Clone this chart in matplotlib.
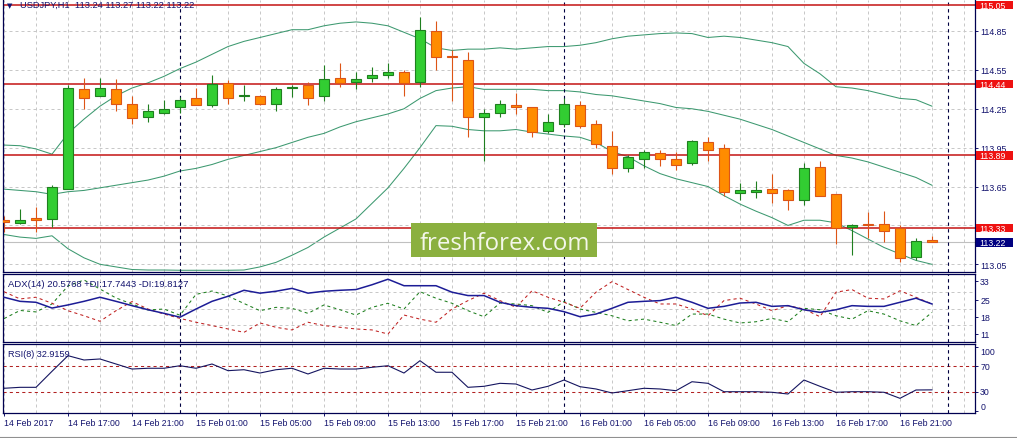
import matplotlib
matplotlib.use("Agg")
import matplotlib.pyplot as plt
from matplotlib.patches import Rectangle
from matplotlib.transforms import blended_transform_factory

plt.rcParams["font.family"] = ["Liberation Sans", "DejaVu Sans"]

# USDJPY H1 bars, 14 Feb 2017 13:00 .. 16 Feb 23:00
opens = [113.39, 113.37, 113.41, 113.40, 113.63, 114.40, 114.35, 114.40, 114.29, 114.19,
         114.22, 114.26, 114.33, 114.28, 114.45, 114.35, 114.35, 114.29, 114.41, 114.43,
         114.35, 114.49, 114.46, 114.49, 114.51, 114.53, 114.46, 114.85, 114.66, 114.63,
         114.19, 114.22, 114.28, 114.26, 114.08, 114.13, 114.28, 114.13, 113.96, 113.79,
         113.86, 113.91, 113.86, 113.83, 113.99, 113.95, 113.60, 113.61, 113.63, 113.62,
         113.55, 113.80, 113.59, 113.34, 113.36, 113.36, 113.33, 113.11, 113.24]
highs = [113.42, 113.48, 113.49, 113.66, 114.43, 114.49, 114.49, 114.48, 114.35, 114.29,
         114.32, 114.34, 114.41, 114.51, 114.47, 114.43, 114.36, 114.42, 114.43, 114.46,
         114.59, 114.60, 114.53, 114.57, 114.60, 114.55, 114.96, 114.93, 114.70, 114.69,
         114.25, 114.32, 114.37, 114.26, 114.21, 114.33, 114.31, 114.16, 114.08, 113.89,
         113.93, 113.93, 113.92, 114.01, 114.03, 113.98, 113.68, 113.69, 113.75, 113.63,
         113.83, 113.85, 113.59, 113.36, 113.45, 113.46, 113.35, 113.25, 113.27]
lows = [113.30, 113.36, 113.30, 113.34, 113.63, 114.25, 114.35, 114.23, 114.13, 114.15,
        114.21, 114.22, 114.28, 114.26, 114.29, 114.31, 114.28, 114.23, 114.34, 114.28,
        114.31, 114.42, 114.40, 114.46, 114.49, 114.35, 114.42, 114.55, 114.31, 114.03,
        113.85, 114.19, 114.21, 114.03, 114.06, 114.11, 114.10, 113.95, 113.75, 113.76,
        113.79, 113.81, 113.78, 113.82, 113.85, 113.58, 113.55, 113.56, 113.52, 113.47,
        113.51, 113.58, 113.21, 113.12, 113.25, 113.22, 113.07, 113.08, 113.22]
closes = [113.38, 113.39, 113.39, 113.65, 114.41, 114.33, 114.41, 114.29, 114.18, 114.23,
          114.25, 114.32, 114.28, 114.44, 114.33, 114.36, 114.29, 114.40, 114.42, 114.33,
          114.48, 114.45, 114.48, 114.51, 114.53, 114.45, 114.86, 114.65, 114.65, 114.19,
          114.22, 114.29, 114.26, 114.07, 114.15, 114.29, 114.12, 113.98, 113.79, 113.88,
          113.92, 113.86, 113.82, 114.00, 113.93, 113.61, 113.62, 113.62, 113.60, 113.55,
          113.79, 113.58, 113.33, 113.35, 113.35, 113.31, 113.10, 113.23, 113.22]

# Bollinger bands
bb_upper = [113.97, 113.965, 113.94, 113.90, 114.06, 114.17, 114.27, 114.35, 114.41, 114.45,
            114.50, 114.56, 114.61, 114.67, 114.73, 114.77, 114.80, 114.83, 114.86, 114.86,
            114.89, 114.91, 114.92, 114.91, 114.89, 114.84, 114.79, 114.72, 114.70, 114.71,
            114.71, 114.72, 114.71, 114.72, 114.73, 114.73, 114.74, 114.76, 114.79, 114.81,
            114.82, 114.83, 114.835, 114.83, 114.80, 114.81, 114.80, 114.78, 114.76, 114.73,
            114.60, 114.52, 114.42, 114.41, 114.39, 114.36, 114.33, 114.32, 114.27]
bb_middle = [113.63, 113.62, 113.61, 113.59, 113.61, 113.62, 113.64, 113.66, 113.68, 113.70,
             113.73, 113.77, 113.79, 113.82, 113.86, 113.89, 113.92, 113.95, 113.99, 114.03,
             114.06, 114.11, 114.15, 114.18, 114.21, 114.25, 114.33, 114.39, 114.41, 114.42,
             114.40, 114.40, 114.40, 114.40, 114.39, 114.39, 114.38, 114.36, 114.35, 114.33,
             114.31, 114.29, 114.26, 114.25, 114.23, 114.20, 114.17, 114.13, 114.09, 114.04,
             113.99, 113.94, 113.89, 113.87, 113.84, 113.80, 113.76, 113.72, 113.66]
bb_lower = [113.28, 113.26, 113.25, 113.27, 113.17, 113.10, 113.05, 113.03, 113.01, 113.006,
            113.006, 113.004, 113.004, 113.004, 113.004, 113.006, 113.03, 113.065, 113.12, 113.18,
            113.26, 113.33, 113.40, 113.52, 113.64, 113.79, 113.95, 114.12, 114.115, 114.09,
            114.08, 114.08, 114.09, 114.07, 114.055, 114.04, 114.03, 113.99, 113.92, 113.88,
            113.81, 113.75, 113.71, 113.68, 113.65, 113.58, 113.515, 113.46, 113.41, 113.35,
            113.39, 113.39, 113.37, 113.31, 113.245, 113.18, 113.13, 113.08, 113.05]

# ADX(14)
adx = [26.1, 24.4, 24.0, 21.6, 22.9, 24.4, 26.1, 24.4, 22.6, 20.9,
       19.4, 17.8, 21.2, 24.4, 26.5, 29.0, 27.8, 28.6, 29.8, 27.8,
       28.6, 29.0, 29.3, 31.3, 33.6, 30.9, 30.9, 30.9, 28.2, 26.8,
       26.8, 24.0, 22.6, 21.9, 21.5, 20.1, 18.0, 19.1, 21.5, 24.0,
       24.4, 24.7, 26.1, 24.0, 21.5, 22.3, 23.7, 24.0, 22.3, 22.6,
       20.9, 19.8, 20.9, 22.6, 22.3, 22.3, 24.0, 25.7, 23.3]
plus_di = [17.2, 20.6, 20.0, 23.3, 30.8, 33.3, 29.5, 25.8, 23.3, 20.8,
           21.2, 18.6, 27.3, 28.7, 26.6, 23.5, 20.5, 21.9, 21.5, 19.4,
           22.9, 20.9, 18.7, 21.9, 23.6, 21.2, 28.4, 25.7, 23.6, 20.5,
           18.0, 23.7, 23.3, 22.6, 19.8, 24.3, 21.2, 19.8, 18.4, 16.3,
           17.0, 15.7, 14.3, 19.1, 19.1, 17.0, 15.4, 15.9, 17.3, 15.9,
           21.5, 20.9, 18.4, 17.0, 20.5, 19.1, 16.3, 14.3, 19.8]
minus_di = [28.4, 25.4, 26.1, 23.6, 20.5, 18.4, 16.1, 20.5, 24.3, 21.2,
            19.1, 17.3, 15.7, 14.3, 12.9, 11.5, 15.4, 13.6, 12.5, 15.7,
            14.3, 13.6, 12.9, 12.5, 10.8, 18.7, 17.0, 15.7, 21.2, 24.7,
            27.8, 24.7, 21.9, 28.8, 26.1, 24.0, 21.5, 28.2, 32.6, 29.3,
            26.1, 23.3, 23.3, 21.2, 18.4, 24.7, 25.7, 23.3, 20.5, 22.6,
            21.2, 18.0, 28.2, 29.3, 25.7, 25.4, 28.8, 26.1, 23.3]

# RSI(8)
rsi = [35.4, 36.9, 36.9, 62.1, 86.7, 79.9, 81.5, 73.6, 65.7, 66.9,
       66.9, 70.9, 66.9, 73.6, 63.1, 64.6, 59.4, 64.6, 66.9, 57.9,
       66.9, 65.7, 65.7, 68.4, 70.9, 59.4, 78.8, 60.6, 60.6, 36.9,
       38.5, 43.2, 42.1, 32.7, 38.5, 48.4, 37.9, 34.3, 28.0, 31.6,
       35.4, 34.3, 31.6, 45.7, 43.2, 30.0, 30.0, 30.0, 29.1, 26.4,
       48.4, 38.5, 29.1, 30.0, 30.0, 29.1, 19.6, 32.7, 32.9]

levels = [115.05, 114.44, 113.89, 113.33]
bid = 113.22
price_ticks = [113.05, 113.35, 113.65, 113.95, 114.25, 114.55, 114.85]
adx_ticks = [33, 25, 18, 11]
adx_grid = [28.3, 21.4, 14.5]
rsi_ticks = [100, 70, 30, 0]
rsi_levels = [70, 30]
day_breaks = [11, 35, 59]
time_label_bars = list(range(0, 59, 4))
time_labels = ["14 Feb 2017", "14 Feb 17:00", "14 Feb 21:00", "15 Feb 01:00",
               "15 Feb 05:00", "15 Feb 09:00", "15 Feb 13:00", "15 Feb 17:00",
               "15 Feb 21:00", "16 Feb 01:00", "16 Feb 05:00", "16 Feb 09:00",
               "16 Feb 13:00", "16 Feb 17:00", "16 Feb 21:00"]
header = "USDJPY,H1  113.24 113.27 113.22 113.22"
adx_title = "ADX(14) 20.5768 +DI:17.7443 -DI:19.8127"
rsi_title = "RSI(8) 32.9159"

# colours
NAVY = "#14146E"
GRID = "#C8C8C8"
BAND = "#3D9970"
LEVEL = "#C41414"
UP_FILL, UP_EDGE = "#32CD32", "#1F7F1F"
DN_FILL, DN_EDGE = "#FF8C00", "#DD5516"
FS = 6.3

W, H = 1017, 439
fig = plt.figure(figsize=(W / 100, H / 100), dpi=100)
fig.patch.set_facecolor("white")


def panel(y0, y1):
    x0, x1 = 3.3, 975
    return fig.add_axes([x0 / W, 1 - y1 / H, (x1 - x0) / W, (y1 - y0) / H])


ax = panel(0.5, 272.7)
ax_adx = panel(274.7, 342.7)
ax_rsi = panel(345.3, 414)

n = len(closes)
xs = list(range(n))

for a in (ax, ax_adx, ax_rsi):
    a.set_xlim(-0.044, 60.69)
    a.yaxis.tick_right()
    a.tick_params(axis="y", direction="out", length=2.2, width=0.7, color=NAVY,
                  labelsize=FS, labelcolor=NAVY, pad=1.5)
    for s in a.spines.values():
        s.set_color("#000050")
        s.set_linewidth(0.9)
    for gx in range(0, 61, 2):
        a.axvline(gx, color=GRID, lw=0.72, ls=(0, (3, 3)), zorder=0.5)
    for d in day_breaks:
        a.axvline(d, color="#000040", lw=0.8, ls=(0, (3, 3)), zorder=1.5)
ax.spines["top"].set_visible(False)

# ---- main price panel
ax.set_ylim(112.993, 115.093)
ax.set_yticks(price_ticks, [f"{p:.2f}" for p in price_ticks])
ax.set_xticks([])
for p in price_ticks:
    ax.axhline(p, color=GRID, lw=0.72, ls=(0, (3, 3)), zorder=0.5)

ax.plot(xs, bb_upper, color=BAND, lw=0.75, zorder=1)
ax.plot(xs, bb_middle, color=BAND, lw=0.75, zorder=1)
ax.plot(xs, bb_lower, color=BAND, lw=0.75, zorder=1)

ax.axhline(bid, color="#C0C0C0", lw=0.8, zorder=1.2)
for lv in levels:
    ax.axhline(lv, color=LEVEL, lw=1.1, zorder=1.8)

for i in xs:
    o, h, l, c = opens[i], highs[i], lows[i], closes[i]
    up = c >= o
    edge = UP_EDGE if up else DN_EDGE
    ax.vlines(i, l, h, color=edge, lw=0.8, zorder=2)
    ax.bar(i, max(abs(c - o), 0.004), bottom=min(o, c), width=0.6,
           color=UP_FILL if up else DN_FILL, edgecolor=edge, linewidth=0.8, zorder=3)

# price boxes on the right scale
tr = blended_transform_factory(ax.transAxes, ax.transData)
box_h = 8.6 / 129.6


def price_box(value, fill):
    ax.add_patch(Rectangle((1.001, value - box_h / 2), 0.0378, box_h, transform=tr,
                           facecolor=fill, edgecolor="none", clip_on=False, zorder=5))
    ax.text(1.0042, value, f"{value:.2f}", transform=tr, color="white", fontsize=FS,
            va="center", ha="left", zorder=6, clip_on=False)


for lv in levels:
    price_box(lv, "#EE1111")
price_box(bid, "#000080")

ax.text(0.0042, 0.981, "\u25bc", transform=ax.transAxes, fontsize=5, color=NAVY,
        va="center", ha="left", family=["DejaVu Sans"], zorder=6)
ax.text(0.0172, 0.981, header, transform=ax.transAxes, fontsize=6.7, color=NAVY,
        va="center", ha="left", zorder=6)

# watermark
ax.add_patch(Rectangle((0.4196, 0.055), 0.1914, 0.1225, transform=ax.transAxes,
                       facecolor="#8BB03F", edgecolor="none", zorder=7))
ax.text(0.5158, 0.083, "freshforex.com", transform=ax.transAxes, fontsize=17.3,
        family=["Open Sans", "DejaVu Sans"], color="#F4F7EA", ha="center",
        va="baseline", zorder=8)

# ---- ADX panel
ax_adx.set_ylim(7.6, 35.9)
ax_adx.set_yticks(adx_ticks, [str(t) for t in adx_ticks])
ax_adx.set_xticks([])
for g in adx_grid:
    ax_adx.axhline(g, color=GRID, lw=0.72, ls=(0, (3, 3)), zorder=0.5)
ax_adx.plot(xs, plus_di, color="#1E7F1E", lw=0.75, ls=(0, (3, 3)), zorder=2)
ax_adx.plot(xs, minus_di, color="#C02020", lw=0.75, ls=(0, (3, 3)), zorder=2)
ax_adx.plot(xs, adx, color="#1C1C96", lw=1.1, zorder=3)
ax_adx.text(0.005, 0.85, adx_title, transform=ax_adx.transAxes, fontsize=6.8,
            color=NAVY, va="center", ha="left", zorder=6)

# ---- RSI panel
ax_rsi.set_ylim(-3.5, 104.6)
ax_rsi.set_yticks(rsi_ticks, [str(t) for t in rsi_ticks])
for lbl, va in zip(ax_rsi.get_yticklabels(), ["top", "center", "center", "bottom"]):
    lbl.set_va(va)
for lv in rsi_levels:
    ax_rsi.axhline(lv, color="#B22222", lw=0.75, ls=(0, (3, 3)), zorder=1)
ax_rsi.plot(xs, rsi, color="#151560", lw=0.8, zorder=3)
ax_rsi.text(0.005, 0.86, rsi_title, transform=ax_rsi.transAxes, fontsize=6.6,
            color=NAVY, va="center", ha="left", zorder=6)
ax_rsi.set_xticks(time_label_bars, time_labels, ha="left")
ax_rsi.tick_params(axis="x", direction="out", length=2.2, width=0.7, color=NAVY,
                   labelsize=FS, labelcolor=NAVY, pad=1.2)

# tab strip at the bottom edge
fig.add_artist(plt.Line2D([0, 1], [1.5 / H, 1.5 / H], color="#909090", lw=0.8))

fig.savefig("out.png", dpi=100, facecolor="white")
